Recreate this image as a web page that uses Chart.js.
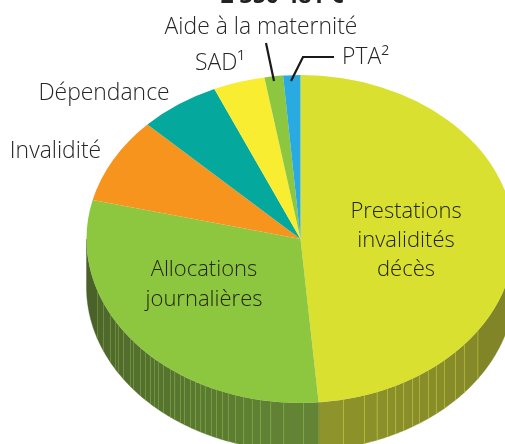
<!DOCTYPE html>
<html><head><meta charset="utf-8">
<style>html,body{margin:0;padding:0;background:#fff;overflow:hidden}#w{width:505px;height:444px;position:relative}</style>
<script src="https://cdn.jsdelivr.net/npm/chart.js@4"></script>
</head><body><div id="w"><canvas id="c" width="505" height="444"></canvas></div>
<script>
const categories = ["Prestations invalidités décès","Allocations journalières","Invalidité","Dépendance","SAD","Aide à la maternité","PTA"];
const shares = [48.7,30.2,8.5,6.1,3.9,1.4,1.3];
const sliceColors = ["#d9e02f","#8dc63f","#f7941e","#04a89d","#f9ed32","#8dc63f","#29abe2"];
const totalLabel = "2 350 481 €";
const insideLines = [["Prestations","invalidités","décès"],["Allocations","journalières"]];
const outsideLabels = ["Invalidité","Dépendance","SAD¹","Aide à la maternité","PTA²"];
const ribDegrees = [124,130,133.6,137.7,140.6,143.3,146.2,148.4,151.2,153.6,156,159,162.6,168.4,179.2,184.5,188,190.8,193,195.4,197.7,199.7,201.4,203.1,204.6,206.4,207.8,209.4,210.9,212.8,214.1,216,217.4,219.8,221.6,223,224.5,226.4,228.4,231.3,232.6,235.8,238.3,239.8,242.6,247,251.6];

const SQUASH = 0.766, DEPTH = 48;
const rgb = h => [1,3,5].map(i => parseInt(h.substr(i,2),16));
// shade of the rim, by clockwise angle from the top
function shade(deg){
  if (deg < 180) return 0.60 + (deg-90)/90*0.10;
  return 0.70 - (deg-180)/90*0.23;
}
const rimColor = (base,f) => `rgb(${base.map(v=>Math.min(255,Math.round(v*f*0.85+15))).join(',')})`;
function rimPoint(cx,cy,r,deg,drop){
  const a = deg*Math.PI/180;
  return [cx + r*Math.sin(a), cy - r*Math.cos(a)*SQUASH + drop];
}
const pie3d = {
  id:'pie3d',
  beforeDatasetsDraw(chart){
    const ctx = chart.ctx, arcs = chart.getDatasetMeta(0).data;
    ctx.save();
    arcs.forEach((arc,i) => {
      const s = (arc.startAngle+Math.PI/2)*180/Math.PI, e = (arc.endAngle+Math.PI/2)*180/Math.PI;
      const from = Math.max(s,90), to = Math.min(e,270);
      if (to <= from) return;
      const base = rgb(sliceColors[i]);
      const stops = [from, ...ribDegrees.filter(d => d>from && d<to), to];
      for (let k=0;k<stops.length-1;k++){
        const a=stops[k], b=stops[k+1], f=shade((a+b)/2);
        ctx.fillStyle = rimColor(base,f);
        ctx.strokeStyle = ctx.fillStyle; ctx.lineWidth=0.4;
        ctx.beginPath();
        for(let d=a;d<b;d+=0.5){const p=rimPoint(arc.x,arc.y,arc.outerRadius,d,0);ctx.lineTo(p[0],p[1]);}
        let p=rimPoint(arc.x,arc.y,arc.outerRadius,b,0);ctx.lineTo(p[0],p[1]);
        for(let d=b;d>a;d-=0.5){p=rimPoint(arc.x,arc.y,arc.outerRadius,d,DEPTH);ctx.lineTo(p[0],p[1]);}
        p=rimPoint(arc.x,arc.y,arc.outerRadius,a,DEPTH);ctx.lineTo(p[0],p[1]);
        ctx.closePath();ctx.fill();ctx.stroke();
      }
      ctx.lineWidth=0.7;
      stops.slice(1,-1).forEach(d=>{
        ctx.strokeStyle=rimColor(base,shade(d)+0.28);
        const p=rimPoint(arc.x,arc.y,arc.outerRadius,d,0), q=rimPoint(arc.x,arc.y,arc.outerRadius,d,DEPTH);
        ctx.beginPath();ctx.moveTo(p[0],p[1]);ctx.lineTo(q[0],q[1]);ctx.stroke();
      });
    });
    ctx.restore();
    const a0 = arcs[0];
    ctx.save();
    ctx.translate(a0.x,a0.y);ctx.scale(1,SQUASH);ctx.translate(-a0.x,-a0.y);
  },
  afterDatasetsDraw(chart){
    const ctx = chart.ctx;
    ctx.restore();
    ctx.save();
    ctx.strokeStyle="#1a1a1a";ctx.lineWidth=2.2;ctx.lineJoin="miter";
    ctx.beginPath();ctx.moveTo(266,43);ctx.lineTo(274,81);ctx.stroke();
    ctx.beginPath();ctx.moveTo(334,57);ctx.lineTo(303,57);ctx.lineTo(291,81);ctx.stroke();
    ctx.textBaseline="alphabetic";
    ctx.font='bold 23px "Open Sans"';ctx.fillStyle="#222";ctx.textAlign="center";
    ctx.fillText(totalLabel,282,3);
    ctx.font='300 22px "Open Sans"';
    const topPos=[[406,218],[406,247],[406,276]], lowPos=[[204,276],[204,306]];
    ctx.fillStyle="#23260f";
    insideLines[0].forEach((t,i)=>ctx.fillText(t,topPos[i][0],topPos[i][1]));
    insideLines[1].forEach((t,i)=>ctx.fillText(t,lowPos[i][0],lowPos[i][1]));
    ctx.font='300 22.9px "Open Sans"';
    ctx.fillStyle="#262626";
    const outPos=[[55.5,158],[104,100],[220,70],[261,34],[365.5,64]];
    outsideLabels.forEach((t,i)=>ctx.fillText(t,outPos[i][0],outPos[i][1]));
    ctx.restore();
  }
};
new Chart(document.getElementById('c'),{
  type:'pie',
  data:{labels:categories,datasets:[{data:shares,backgroundColor:sliceColors,borderWidth:0,radius:214,clip:false}]},
  options:{responsive:false,animation:false,layout:{padding:{left:96,top:34}},
    plugins:{legend:{display:false},tooltip:{enabled:false},title:{display:false}}},
  plugins:[pie3d]
});
</script></body></html>
